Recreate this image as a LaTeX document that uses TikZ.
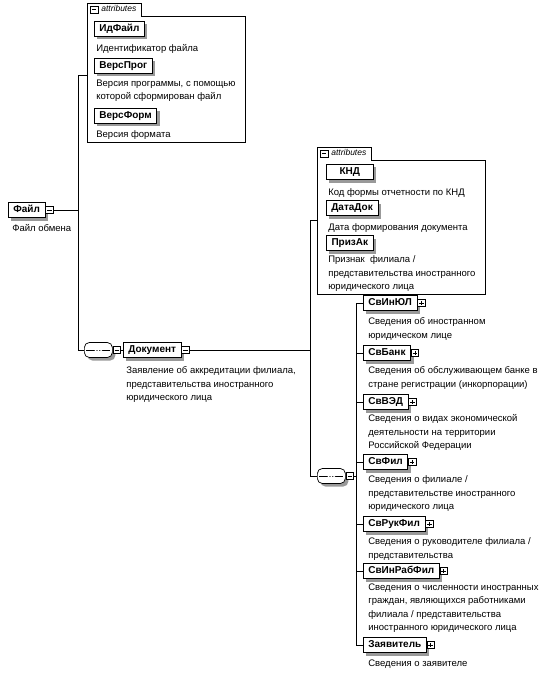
\documentclass[tikz,border=0pt]{standalone}
\usepackage{fontspec}
\setmainfont{Liberation Sans}
\usetikzlibrary{shadows}

\begin{document}
\begin{tikzpicture}[x=1pt,y=-1pt,line width=0.7pt,
  shadowed/.style={drop shadow={shadow xshift=3pt,shadow yshift=-3pt,fill=black!40,opacity=1}},
  elem/.style={draw,fill=white,shadowed,anchor=west,font=\fontsize{10}{12}\bfseries\selectfont,inner xsep=5pt,inner ysep=0pt,minimum height=15pt,text height=7.5pt,text depth=2pt},
  attr/.style={elem,minimum width=47pt},
  desc/.style={anchor=north west,inner sep=0pt,align=left,font=\fontsize{9.5}{13.5}\selectfont,execute at begin node=\strut},
  xbox/.style={draw,fill=white,anchor=west,minimum size=7.5pt,inner sep=0pt,line width=0.6pt},
  xminus/.style={xbox,path picture={\draw ([xshift=1.5pt]path picture bounding box.west) -- ([xshift=-1.5pt]path picture bounding box.east);}},
  xplus/.style={xbox,path picture={\draw ([xshift=1.5pt]path picture bounding box.west) -- ([xshift=-1.5pt]path picture bounding box.east) ([yshift=-1.5pt]path picture bounding box.north) -- ([yshift=1.5pt]path picture bounding box.south);}},
  seq/.style={rectangle,rounded corners=5pt,draw,fill=white,shadowed,anchor=west,minimum width=28pt,minimum height=15pt,inner sep=0pt,
    path picture={\draw[sharp corners] ([xshift=2pt]path picture bounding box.west) -- ([xshift=-2pt]path picture bounding box.east);
      \foreach \d in {-2.8,0,2.8} \fill ([xshift=\d pt]path picture bounding box.center) circle (1.2pt);}},
  tab/.style={anchor=south west,inner xsep=2pt,inner ysep=0pt,minimum height=12pt,minimum width=54pt,font=\fontsize{8.5}{9}\itshape\selectfont,text height=6pt,text depth=1.5pt},
  group/.style={anchor=north west,inner sep=0pt}]
  \useasboundingbox (0,0) rectangle (546,679);
  % Root element
  \node[elem] (file) at (8,210) {Файл};
  \node[xminus] (mFile) at (file.east) {};
  \node[desc] (dFile) at (12,221.5) {Файл обмена};
  % Attributes of Файл
  \node[group,minimum width=158pt,minimum height=126pt] (attrA) at (87,16) {};
  \node[tab] (tabA) at (attrA.north west) {\hspace*{9pt}attributes};
  \node[xminus] (mTabA) at ([xshift=3pt]tabA.west) {};
  \draw (tabA.north west) -| (tabA.south east) -| (attrA.south east) -| (tabA.north west) -- cycle;
  \node[attr] (idFile) at (94,29) {ИдФайл};
  \node[desc] (dIdFile) at (96,41.5) {Идентификатор файла};
  \node[attr] (versProg) at (94,66) {ВерсПрог};
  \node[desc] (dVersProg) at (96,79.5) {Версия программы, с помощью\\которой сформирован файл};
  \node[attr] (versForm) at (94,116) {ВерсФорм};
  \node[desc] (dVersForm) at (96,127.5) {Версия формата};
  % Sequence of Файл
  \coordinate (busA1) at (78,75);
  \coordinate (busA2) at (78,350);
  \node[seq] (seqA) at (84,350) {};
  \node[xminus] (mSeqA) at (seqA.east) {};
  \draw (mFile.east) -- (mFile.east -| busA1);
  \draw (attrA.west |- busA1) -- (busA1) -- (busA2) -- (seqA.west);
  % Документ
  \node[elem] (doc) at (123,350) {Документ};
  \node[xminus] (mDoc) at (doc.east) {};
  \node[desc] (dDoc) at (126,366.5) {Заявление об аккредитации филиала,\\представительства иностранного\\юридического лица};
  \draw (mSeqA.east) -- (doc.west);
  % Attributes of Документ
  \node[group,minimum width=168pt,minimum height=134pt] (attrB) at (317,160) {};
  \node[tab] (tabB) at (attrB.north west) {\hspace*{9pt}attributes};
  \node[xminus] (mTabB) at ([xshift=3pt]tabB.west) {};
  \draw (tabB.north west) -| (tabB.south east) -| (attrB.south east) -| (tabB.north west) -- cycle;
  \node[attr] (knd) at (326,172) {КНД};
  \node[desc] (dKnd) at (328,185.5) {Код формы отчетности по КНД};
  \node[attr] (dataDok) at (326,208) {ДатаДок};
  \node[desc] (dDataDok) at (328,220.5) {Дата формирования документа};
  \node[attr] (prizAk) at (326,243) {ПризАк};
  \node[desc] (dPrizAk) at (328,255.5) {Признак\ \ филиала /\\представительства иностранного\\юридического лица};
  % Sequence of Документ
  \coordinate (busB1) at (310,220);
  \coordinate (busB2) at (310,350);
  \coordinate (busB3) at (310,476);
  \node[seq] (seqB) at (317,476) {};
  \node[xminus] (mSeqB) at (seqB.east) {};
  \draw (mDoc.east) -- (busB2);
  \draw (attrB.west |- busB1) -- (busB1) -- (busB3) -- (seqB.west);
  % Children of Документ
  \coordinate (busC0) at (356,476);
  \coordinate (busC1) at (356,303);
  \coordinate (busC2) at (356,645);
  \draw (mSeqB.east) -- (busC0);
  \draw (busC1) -- (busC2);
  \node[elem] (svInUL) at (363,303) {СвИнЮЛ};
  \node[xplus] (pSvInUL) at (svInUL.east) {};
  \node[desc] (dSvInUL) at (368,317.5) {Сведения об иностранном\\юридическом лице};
  \node[elem] (svBank) at (363,353) {СвБанк};
  \node[xplus] (pSvBank) at (svBank.east) {};
  \node[desc] (dSvBank) at (368,366.5) {Сведения об обслуживающем банке в\\стране регистрации (инкорпорации)};
  \node[elem] (svVED) at (363,402) {СвВЭД};
  \node[xplus] (pSvVED) at (svVED.east) {};
  \node[desc] (dSvVED) at (368,414.5) {Сведения о видах экономической\\деятельности на территории\\Российской Федерации};
  \node[elem] (svFil) at (363,462) {СвФил};
  \node[xplus] (pSvFil) at (svFil.east) {};
  \node[desc] (dSvFil) at (368,475.5) {Сведения о филиале /\\представительстве иностранного\\юридического лица};
  \node[elem] (svRukFil) at (363,524) {СвРукФил};
  \node[xplus] (pSvRukFil) at (svRukFil.east) {};
  \node[desc] (dSvRukFil) at (368,537.5) {Сведения о руководителе филиала /\\представительства};
  \node[elem] (svInRabFil) at (363,571) {СвИнРабФил};
  \node[xplus] (pSvInRabFil) at (svInRabFil.east) {};
  \node[desc] (dSvInRabFil) at (368,583.5) {Сведения о численности иностранных\\граждан, являющихся работниками\\филиала / представительства\\иностранного юридического лица};
  \node[elem] (zayav) at (363,645) {Заявитель};
  \node[xplus] (pZayav) at (zayav.east) {};
  \node[desc] (dZayav) at (368,656.5) {Сведения о заявителе};
  \draw (svInUL.west -| busC1) -- (svInUL.west); \draw (svBank.west -| busC1) -- (svBank.west);
  \draw (svVED.west -| busC1) -- (svVED.west); \draw (svFil.west -| busC1) -- (svFil.west);
  \draw (svRukFil.west -| busC1) -- (svRukFil.west); \draw (svInRabFil.west -| busC1) -- (svInRabFil.west);
  \draw (zayav.west -| busC1) -- (zayav.west);
\end{tikzpicture}
\end{document}
